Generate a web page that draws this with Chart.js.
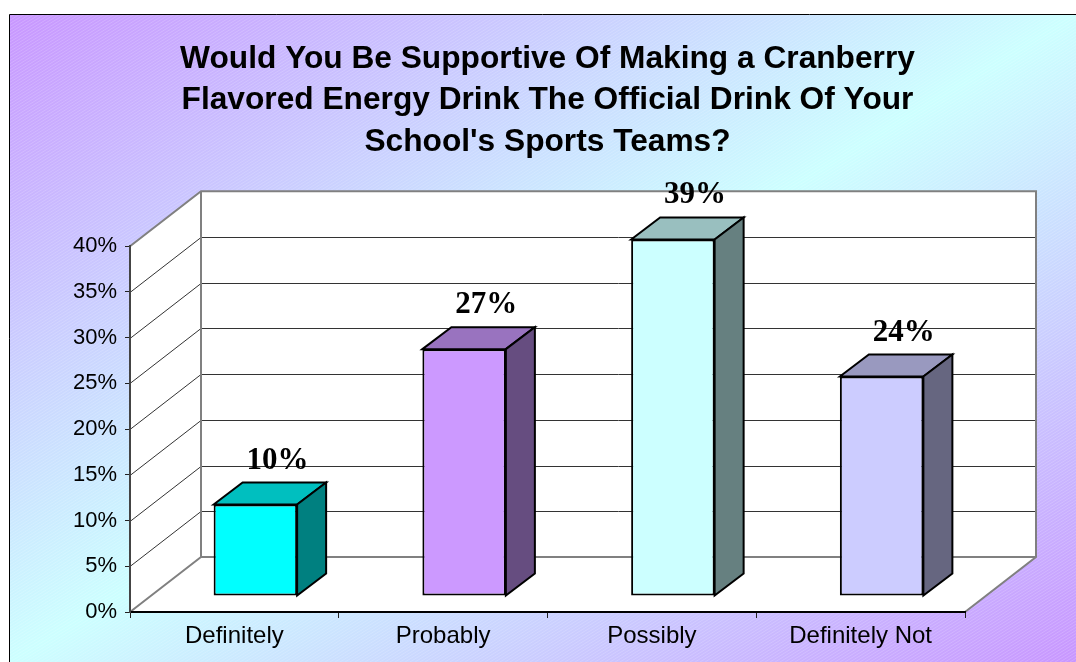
<!DOCTYPE html>
<html>
<head>
<meta charset="utf-8">
<title>Cranberry Energy Drink Survey</title>
<script src="https://cdn.jsdelivr.net/npm/chart.js@4.4.1/dist/chart.umd.min.js"></script>
<style>
  html, body { margin: 0; padding: 0; background: #fff; }
  #wrap { width: 1076px; height: 662px; }
</style>
</head>
<body>
<div id="wrap"><canvas id="myChart" width="1076" height="662"></canvas></div>
<script>
// survey answers
const categories = ['Definitely', 'Probably', 'Possibly', 'Definitely Not']
const values = [10, 27, 39, 24]
const yTicks = [0, 5, 10, 15, 20, 25, 30, 35, 40]
const titleLines = [
  'Would You Be Supportive Of Making a Cranberry',
  'Flavored Energy Drink The Official Drink Of Your',
  "School's Sports Teams?"
]

// front colour of each bar, top and side are darker shades of it
const barColors = ['#00ffff', '#cc99ff', '#ccffff', '#ccccff']

// 3d look: depth of the walls, where the bars sit inside them, depth of a bar
const wallDepth = { x: 71, y: -55 }
const barShift = { x: 21, y: -16 }
const barDepth = { x: 29, y: -22 }

function shade(hex, f) {
  const n = parseInt(hex.slice(1), 16)
  const r = Math.round(((n >> 16) & 255) * f)
  const g = Math.round(((n >> 8) & 255) * f)
  const b = Math.round((n & 255) * f)
  return 'rgb(' + r + ',' + g + ',' + b + ')'
}

function poly(ctx, pts) {
  ctx.beginPath()
  ctx.moveTo(pts[0][0], pts[0][1])
  for (let i = 1; i < pts.length; i++) ctx.lineTo(pts[i][0], pts[i][1])
  ctx.closePath()
}

// gradient background, frame and the walls / floor of the box
const backdrop = {
  id: 'backdrop',
  beforeDraw(chart) {
    const ctx = chart.ctx
    const w = chart.width, h = chart.height
    const a = chart.chartArea
    const y = chart.scales.y

    ctx.save()
    ctx.fillStyle = '#fff'
    ctx.fillRect(0, 0, w, h)

    // purple in two corners, light cyan along the other diagonal
    const g = ctx.createLinearGradient(10, 15, 584, 960)
    g.addColorStop(0, '#c896ff')
    g.addColorStop(0.5, '#ccffff')
    g.addColorStop(1, '#c896ff')
    ctx.fillStyle = g
    ctx.fillRect(10, 15, w - 10, h - 15)

    // faint diagonal stripes of the fill texture
    ctx.save()
    ctx.beginPath()
    ctx.rect(10, 15, w - 10, h - 15)
    ctx.clip()
    ctx.strokeStyle = 'rgba(255,255,255,0.18)'
    ctx.lineWidth = 1
    for (let k = -1200; k < w + 200; k += 5) {
      ctx.beginPath()
      ctx.moveTo(k, h)
      ctx.lineTo(k + h / 0.62, 0)
      ctx.stroke()
    }
    ctx.restore()

    ctx.strokeStyle = '#000'
    ctx.lineWidth = 1
    ctx.beginPath()
    ctx.moveTo(9.5, h)
    ctx.lineTo(9.5, 14.5)
    ctx.lineTo(w, 14.5)
    ctx.stroke()

    const dx = wallDepth.x, dy = wallDepth.y
    const L = a.left, R = a.right
    const T = y.getPixelForValue(yTicks[yTicks.length - 1])
    const B = y.getPixelForValue(yTicks[0])

    ctx.fillStyle = '#fff'
    ctx.fillRect(L + dx, T + dy, R - L, B - T)
    poly(ctx, [[L, T], [L + dx, T + dy], [L + dx, B + dy], [L, B]])
    ctx.fill()
    poly(ctx, [[L, B], [L + dx, B + dy], [R + dx, B + dy], [R, B]])
    ctx.fill()

    // gridlines run along the side wall and across the back wall
    ctx.strokeStyle = '#333'
    ctx.lineWidth = 1
    yTicks.slice(1, -1).forEach(v => {
      const py = Math.round(y.getPixelForValue(v)) + 0.5
      ctx.beginPath()
      ctx.moveTo(L, py)
      ctx.lineTo(L + dx, py + dy)
      ctx.lineTo(R + dx, py + dy)
      ctx.stroke()
    })

    ctx.strokeStyle = '#808080'
    ctx.lineWidth = 2
    ctx.beginPath()
    ctx.moveTo(L, T)
    ctx.lineTo(L + dx, T + dy)
    ctx.lineTo(R + dx, T + dy)
    ctx.lineTo(R + dx, B + dy)
    ctx.lineTo(R, B)
    ctx.moveTo(L + dx, T + dy)
    ctx.lineTo(L + dx, B + dy)
    ctx.lineTo(R + dx, B + dy)
    ctx.moveTo(L, B)
    ctx.lineTo(L + dx, B + dy)
    ctx.stroke()
    ctx.restore()
  }
}

// bars sit inside the box: shift them back, then add top, side and value
const bars3d = {
  id: 'bars3d',
  beforeDatasetsDraw(chart) {
    chart.ctx.save()
    chart.ctx.translate(barShift.x, barShift.y)
  },
  afterDatasetsDraw(chart) {
    const ctx = chart.ctx
    const dx = barDepth.x, dy = barDepth.y
    chart.getDatasetMeta(0).data.forEach((bar, i) => {
      const l = bar.x - bar.width / 2, r = bar.x + bar.width / 2
      const t = bar.y, b = bar.base
      ctx.lineWidth = 2
      ctx.lineJoin = 'miter'
      ctx.strokeStyle = '#000'

      ctx.fillStyle = shade(barColors[i], 0.75)
      poly(ctx, [[l, t], [l + dx, t + dy], [r + dx, t + dy], [r, t]])
      ctx.fill()
      ctx.stroke()

      ctx.fillStyle = shade(barColors[i], 0.5)
      poly(ctx, [[r, t], [r + dx, t + dy], [r + dx, b + dy], [r, b]])
      ctx.fill()
      ctx.stroke()

      ctx.fillStyle = '#000'
      ctx.font = 'bold 31px "Liberation Serif", "Times New Roman", serif'
      ctx.textAlign = 'center'
      ctx.textBaseline = 'alphabetic'
      ctx.fillText(values[i] + '%', bar.x + 22, t + dy - 14)
    })
    ctx.restore()
  }
}

Chart.defaults.font.family = 'Arial, "Liberation Sans", sans-serif'
Chart.defaults.color = '#000'

const ctx = document.getElementById('myChart')

const data = {
  labels: categories,
  datasets: [{
    data: values,
    backgroundColor: barColors,
    borderColor: '#000',
    borderWidth: 2,
    borderSkipped: false,
    barPercentage: 0.4,
    categoryPercentage: 1,
    clip: false
  }]
}

const config = {
  type: 'bar',
  data: data,
  options: {
    responsive: false,
    maintainAspectRatio: false,
    devicePixelRatio: 1,
    animation: false,
    layout: { padding: { left: 10, right: 111, top: 0, bottom: 0 } },
    plugins: {
      legend: { display: false },
      tooltip: { enabled: false },
      title: {
        display: true,
        fullSize: false,
        text: titleLines,
        color: '#000',
        font: { size: 31.7, weight: 'bold', lineHeight: 1.31 },
        padding: { top: 38, bottom: 83.7 }
      }
    },
    scales: {
      x: {
        offset: true,
        grid: { display: true, drawOnChartArea: false, tickLength: 6, color: '#222', offset: true },
        border: { display: true, color: '#000', width: 2 },
        ticks: { font: { size: 24 }, padding: 4, maxRotation: 0 },
        afterFit: s => { s.height = 50 }
      },
      y: {
        min: 0,
        max: 40,
        afterBuildTicks: s => { s.ticks = yTicks.map(v => ({ value: v })) },
        grid: { display: true, drawOnChartArea: false, tickLength: 5, color: '#222' },
        border: { display: true, color: '#444', width: 2 },
        ticks: { font: { size: 22 }, padding: 8, callback: v => v + '%' },
        afterFit: s => { s.width = 120 }
      }
    }
  },
  plugins: [backdrop, bars3d]
}

const myChart = new Chart(ctx, config)
</script>
</body>
</html>
